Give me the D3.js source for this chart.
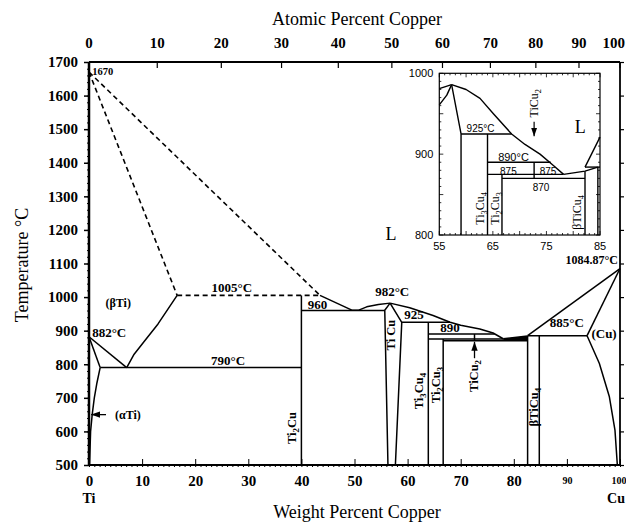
<!DOCTYPE html>
<html>
<head>
<meta charset="utf-8">
<script src="https://cdn.jsdelivr.net/npm/d3@7"></script>
<style>
  body { margin: 0; background: #fff; }
  svg text { font-family: "Liberation Serif", "Times New Roman", serif; fill: #000; }
  .sans { font-family: "Liberation Sans", Arial, sans-serif !important; }
</style>
</head>
<body>
<svg id="chart" width="626" height="523"></svg>
<script>
// ---- data (weight % Cu, temperature °C) ----
const weightTicks = d3.range(0, 101, 10);
const atomicTicks = d3.range(0, 101, 10);
const tempTicks = d3.range(500, 1701, 100);
const insetWtTicks = [55, 65, 75, 85];
const insetTempTicks = [800, 900, 1000];

// dashed (estimated) boundaries
const betaSolidus = [[0, 1670], [16.6, 1005]];
const liquidusHigh = [[0, 1670], [43.5, 1005]];
const peritectic1005 = [[16.6, 1005], [43.5, 1005]];

// solid boundaries, main diagram
const betaTransusA = [[0, 882], [7.1, 790]];
const betaTransusB = [[0, 882], [2.1, 790]];
const alphaSolvus = [[2.1, 790], [1.5, 745], [1.0, 700], [0.6, 650], [0.3, 600], [0.1, 500]];
const betaSolvus = [[7.1, 790], [8.5, 830], [10.5, 870], [13, 920], [16.6, 1005]];
const eutectoid790 = [[2.1, 790], [40, 790]];
const ti2cuLine = [[40, 500], [40, 1005]];
const eutectic960 = [[40, 960], [55.7, 960]];
const liquidusA = [[43.5, 1005], [49.5, 961]];
const liquidusB = [[49.5, 961], [50.8, 961], [52.3, 971], [54.5, 978], [56.7, 982]];
const liquidusC = [[56.7, 982], [60.4, 968], [64.8, 945], [68, 925], [70, 916], [73.6, 905], [76.1, 893], [78, 876]];
const ticuLeft = [[56.7, 982], [55.7, 961], [56.3, 500]];
const ticuRight = [[56.7, 982], [58.9, 925], [57.7, 500]];
const peritectic925 = [[58.9, 925], [68, 925]];
const ti3cu4Line = [[63.9, 925], [63.9, 500]];
const peritectic890 = [[63.9, 890], [76.4, 890]];
const line875 = [[63.9, 875], [78, 875]];
const line870 = [[66.7, 870], [82.6, 870]];
const ti2cu3Line = [[66.7, 875], [66.7, 500]];
const ticu2Line = [[72.6, 890], [72.6, 870]];
const btiCu4Left = [[82.6, 884], [82.6, 500]];
const btiCu4Right = [[84.8, 885], [84.8, 500]];
const eutecticRise = [[78, 876], [82.6, 884]];
const cuLiquidus = [[82.6, 885], [100, 1085]];
const peritectic885 = [[82.6, 885], [93.8, 885]];
const cuSolidus = [[93.8, 885], [100, 1085]];
const cuSolvus = [[93.8, 885], [96.1, 803], [98, 703], [99.05, 604], [99.5, 500]];
const eutecticSliver = [[78, 876], [82.6, 884], [82.6, 870], [78, 872]];

// inset boundaries
const inLiqLeftA = [[55, 981], [57.3, 986]];
const inLiqLeftB = [[55, 961], [56.4, 973], [57.3, 986]];
const inTicuRight = [[57.3, 986], [59.06, 925], [59.06, 800]];
const inLiquidus = [[57.3, 986], [60, 980], [62.6, 969], [65.1, 950], [68.5, 925], [71, 912], [73.8, 900], [76.3, 886], [78.2, 875]];
const inRise = [[78.2, 875], [82.2, 879], [84.6, 884]];
const inCuLiquidus = [[82.2, 884], [85, 921]];
const in925 = [[59.06, 925], [68.5, 925]];
const in890 = [[64, 890], [75.8, 890]];
const in875 = [[64, 875], [78.2, 875]];
const in870 = [[66.7, 870], [82.2, 870]];
const in885 = [[82.2, 884], [85, 884]];
const inTi3cu4 = [[64, 925], [64, 800]];
const inTi2cu3 = [[66.7, 875], [66.7, 800]];
const inTicu2 = [[72.7, 890], [72.7, 870]];
const inBtiLeft = [[82.2, 879], [82.2, 800]];
const inBtiRight = [[84.6, 884], [84.6, 800]];

// labels: [text, wt%, °C, size, anchor]
const mainLabels = [
  ["1670", 0.6, 1662, 10.5, "start"],
  ["(βTi)", 5.5, 971, 12, "middle"],
  ["882°C", 0.6, 881, 13, "start"],
  ["1005°C", 26.9, 1015, 13, "middle"],
  ["790°C", 26.2, 798, 13, "middle"],
  ["960", 41.2, 964, 13, "start"],
  ["982°C", 57.1, 1003, 13, "middle"],
  ["925", 61.2, 935, 13, "middle"],
  ["890", 68.0, 896, 13, "middle"],
  ["885°C", 90.0, 911, 13, "middle"],
  ["(Cu)", 97.0, 877, 13, "middle"],
  ["1084.87°C", 99.6, 1100, 12, "end"],
  ["(αTi)", 4.9, 637, 12, "start"]
];
const mainRotLabels = [
  ["Ti_2Cu", 38.2, 610],
  ["Ti Cu", 56.9, 887],
  ["Ti_3Cu_4", 62.1, 720],
  ["Ti_2Cu_3", 65.3, 738],
  ["TiCu_2", 72.5, 765],
  ["βTiCu_4", 83.8, 672]
];
const insetLabels = [
  ["925°C", 62.7, 927, 10],
  ["890°C", 68.85, 891.5, 11],
  ["875", 67.9, 874.5, 10],
  ["875", 75.3, 874.5, 10],
  ["870", 74.0, 855, 10]
];
const insetRotLabels = [
  ["TiCu_2", 72.7, 963],
  ["Ti_3Cu_4", 62.6, 833],
  ["Ti_2Cu_3", 65.4, 833],
  ["βTiCu_4", 80.7, 828]
];

// ---- scales ----
const M_TI = 47.867, M_CU = 63.546;
const atToWt = a => 100 * a * M_CU / (a * M_CU + (100 - a) * M_TI);

const x = d3.scaleLinear().domain([0, 100]).range([89, 620]);
const y = d3.scaleLinear().domain([500, 1700]).range([465, 62]);
const xi = d3.scaleLinear().domain([55, 85]).range([439.3, 600]);
const yi = d3.scaleLinear().domain([800, 1000]).range([235, 73.3]);

const svg = d3.select("#chart");
svg.append("rect").attr("width", 626).attr("height", 523).attr("fill", "#fff");

const defs = svg.append("defs");
defs.append("marker").attr("id", "arr").attr("viewBox", "0 0 10 10")
  .attr("refX", 10).attr("refY", 5).attr("markerWidth", 7).attr("markerHeight", 7)
  .attr("orient", "auto-start-reverse")
  .append("path").attr("d", "M0,1.5L10,5L0,8.5Z").attr("fill", "#000");

function addText(g, str, size, weight) {
  // "_" makes the next character a subscript
  const t = g.append("text").attr("font-size", size).attr("font-weight", weight || "bold");
  let i = 0, sub = false;
  while (i < str.length) {
    if (str[i] === "_") {
      t.append("tspan").attr("dy", size * 0.25).attr("font-size", size * 0.7).text(str[i + 1]);
      i += 2; sub = true;
    } else {
      let j = i;
      while (j < str.length && str[j] !== "_") j++;
      t.append("tspan").attr("dy", sub ? -size * 0.25 : 0).text(str.slice(i, j));
      sub = false; i = j;
    }
  }
  return t;
}

const lineMain = d3.line().x(d => x(d[0])).y(d => y(d[1])).curve(d3.curveLinear);
const lineInset = d3.line().x(d => xi(d[0])).y(d => yi(d[1])).curve(d3.curveLinear);

// ---- main plot ----
const plot = svg.append("g");

// dashed lines
[betaSolidus, liquidusHigh, peritectic1005].forEach(d => {
  plot.append("path").attr("d", lineMain(d)).attr("fill", "none")
    .attr("stroke", "#000").attr("stroke-width", 1.6).attr("stroke-dasharray", "5,3.5");
});

const solidMain = [betaTransusA, betaTransusB, alphaSolvus, betaSolvus, eutectoid790, ti2cuLine,
  eutectic960, liquidusA, liquidusB, liquidusC, ticuLeft, ticuRight, peritectic925, ti3cu4Line,
  peritectic890, line875, line870, ti2cu3Line, ticu2Line, btiCu4Left, btiCu4Right, eutecticRise,
  cuLiquidus, peritectic885, cuSolidus, cuSolvus];
solidMain.forEach(d => {
  plot.append("path").attr("d", lineMain(d)).attr("fill", "none")
    .attr("stroke", "#000").attr("stroke-width", 1.5).attr("stroke-linejoin", "round");
});
plot.append("path").attr("d", lineMain(eutecticSliver) + "Z").attr("fill", "#000");

// arrows
plot.append("line").attr("x1", x(3.2)).attr("x2", x(0.4)).attr("y1", y(650)).attr("y2", y(650))
  .attr("stroke", "#000").attr("stroke-width", 1.3).attr("marker-end", "url(#arr)");
plot.append("line").attr("x1", x(72.6)).attr("x2", x(72.6)).attr("y1", y(818)).attr("y2", y(867))
  .attr("stroke", "#000").attr("stroke-width", 1.3).attr("marker-end", "url(#arr)");

// frame
const frame = svg.append("g").attr("stroke", "#000").attr("fill", "none");
frame.append("line").attr("x1", x(0)).attr("x2", x(0)).attr("y1", y(500)).attr("y2", y(1700)).attr("stroke-width", 2.5);
frame.append("line").attr("x1", x(0)).attr("x2", x(100)).attr("y1", y(1700)).attr("y2", y(1700)).attr("stroke-width", 1.8);
frame.append("line").attr("x1", x(100)).attr("x2", x(100)).attr("y1", y(500)).attr("y2", y(1700)).attr("stroke-width", 1.8);
frame.append("line").attr("x1", x(0)).attr("x2", x(100)).attr("y1", y(500)).attr("y2", y(500)).attr("stroke-width", 2);

// left axis
const leftAxis = svg.append("g").attr("transform", `translate(${x(0)},0)`)
  .call(d3.axisLeft(y).tickValues(tempTicks).tickSize(5).tickPadding(6).tickFormat(d3.format("d")));
leftAxis.select(".domain").remove();
leftAxis.selectAll("line").attr("stroke-width", 1.5);
leftAxis.selectAll("text").attr("font-size", 15).attr("font-weight", "bold")
  .attr("font-family", "Liberation Serif");
svg.append("g").attr("transform", `translate(${x(0)},0)`)
  .call(d3.axisLeft(y).tickValues(d3.range(500, 1701, 20)).tickSize(2).tickFormat(""))
  .call(g => g.select(".domain").remove());

// right axis ticks
svg.append("g").attr("transform", `translate(${x(100)},0)`)
  .call(d3.axisRight(y).tickValues(tempTicks).tickSize(4).tickFormat(""))
  .call(g => g.select(".domain").remove())
  .selectAll("line").attr("stroke-width", 1.2);

// bottom axis
const bottomAxis = svg.append("g").attr("transform", `translate(0,${y(500)})`)
  .call(d3.axisBottom(x).tickValues(weightTicks).tickSize(-6).tickPadding(10).tickFormat(d3.format("d")));
bottomAxis.select(".domain").remove();
bottomAxis.selectAll("text").attr("font-size", d => d >= 90 ? 10 : 15).attr("font-weight", "bold")
  .attr("font-family", "Liberation Serif").attr("dy", d => d >= 90 ? "0.9em" : "0.71em")
  .attr("text-anchor", d => d === 100 ? "end" : "middle")
  .attr("dx", d => d === 100 ? 6 : 0);
svg.append("g").attr("transform", `translate(0,${y(500)})`)
  .call(d3.axisBottom(x).tickValues(d3.range(0, 101, 1)).tickSize(2).tickFormat(""))
  .call(g => g.select(".domain").remove());

// top axis: atomic percent, placed through the weight scale
const topAxis = svg.append("g");
atomicTicks.forEach(a => {
  const px = x(atToWt(a));
  topAxis.append("line").attr("x1", px).attr("x2", px).attr("y1", y(1700)).attr("y2", y(1700) + 6)
    .attr("stroke", "#000").attr("stroke-width", 1.2);
  topAxis.append("text").attr("x", a === 100 ? px + 5 : px).attr("y", 48)
    .attr("text-anchor", a === 100 ? "end" : "middle")
    .attr("font-size", 15).attr("font-weight", "bold").text(a);
});

// axis titles
svg.append("text").attr("x", 357).attr("y", 25).attr("text-anchor", "middle").attr("font-size", 18).text("Atomic Percent Copper");
svg.append("text").attr("x", 357).attr("y", 518).attr("text-anchor", "middle").attr("font-size", 18).text("Weight Percent Copper");
svg.append("text").attr("transform", "translate(28,265) rotate(-90)").attr("text-anchor", "middle")
  .attr("font-size", 18).text("Temperature °C");
svg.append("text").attr("x", x(0)).attr("y", 503).attr("text-anchor", "middle").attr("font-size", 14).attr("font-weight", "bold").text("Ti");
svg.append("text").attr("x", 625).attr("y", 503).attr("text-anchor", "end").attr("font-size", 14).attr("font-weight", "bold").text("Cu");

// main labels
mainLabels.forEach(([s, w, t, fs, anchor]) => {
  svg.append("text").attr("x", x(w)).attr("y", y(t)).attr("text-anchor", anchor)
    .attr("font-size", fs).attr("font-weight", "bold").text(s);
});
svg.append("text").attr("x", 391).attr("y", y(1170)).attr("text-anchor", "middle").attr("font-size", 18).text("L");
mainRotLabels.forEach(([s, w, t]) => {
  const g = svg.append("g").attr("transform", `translate(${x(w) + 4},${y(t)}) rotate(-90)`);
  addText(g, s, 12.5, "bold").attr("text-anchor", "middle");
});

// ---- inset ----
const inset = svg.append("g");
inset.append("rect").attr("x", xi(55)).attr("y", yi(1000)).attr("width", xi(85) - xi(55)).attr("height", yi(800) - yi(1000))
  .attr("fill", "#fff").attr("stroke", "#000").attr("stroke-width", 1.2);

// inset minor ticks
const insetTicks = inset.append("g").attr("stroke", "#000").attr("stroke-width", 0.8);
d3.range(55, 86, 1).forEach(w => {
  const len = w % 5 === 0 ? 4 : 2;
  insetTicks.append("line").attr("x1", xi(w)).attr("x2", xi(w)).attr("y1", yi(800)).attr("y2", yi(800) - len);
  insetTicks.append("line").attr("x1", xi(w)).attr("x2", xi(w)).attr("y1", yi(1000)).attr("y2", yi(1000) + len);
});
d3.range(800, 1001, 10).forEach(t => {
  const len = t % 50 === 0 ? 4 : 2;
  insetTicks.append("line").attr("x1", xi(55)).attr("x2", xi(55) + len).attr("y1", yi(t)).attr("y2", yi(t));
  insetTicks.append("line").attr("x1", xi(85)).attr("x2", xi(85) - len).attr("y1", yi(t)).attr("y2", yi(t));
});
insetWtTicks.forEach(w => {
  inset.append("text").attr("class", "sans").attr("x", xi(w)).attr("y", yi(800) + 15)
    .attr("text-anchor", "middle").attr("font-size", 11).text(w);
});
insetTempTicks.forEach(t => {
  inset.append("text").attr("class", "sans").attr("x", xi(55) - 6).attr("y", yi(t) + 4)
    .attr("text-anchor", "end").attr("font-size", 11).text(t);
});

const insetLines = [inLiqLeftA, inLiqLeftB, inTicuRight, inLiquidus, inRise, inCuLiquidus, in925, in890,
  in875, in870, in885, inTi3cu4, inTi2cu3, inTicu2, inBtiLeft, inBtiRight];
insetLines.forEach(d => {
  inset.append("path").attr("d", lineInset(d)).attr("fill", "none")
    .attr("stroke", "#000").attr("stroke-width", 1.4).attr("stroke-linejoin", "round");
});
inset.append("line").attr("x1", xi(72.7)).attr("x2", xi(72.7)).attr("y1", yi(940)).attr("y2", yi(922))
  .attr("stroke", "#000").attr("stroke-width", 1.2).attr("marker-end", "url(#arr)");

insetLabels.forEach(([s, w, t, fs]) => {
  inset.append("text").attr("class", "sans").attr("x", xi(w)).attr("y", yi(t)).attr("text-anchor", "middle")
    .attr("font-size", fs).text(s);
});
inset.append("text").attr("x", xi(81.3)).attr("y", yi(926)).attr("text-anchor", "middle").attr("font-size", 18).text("L");
insetRotLabels.forEach(([s, w, t]) => {
  const g = inset.append("g").attr("transform", `translate(${xi(w) + 4},${yi(t)}) rotate(-90)`);
  addText(g, s, 12, "normal").attr("text-anchor", "middle");
});
</script>
</body>
</html>
